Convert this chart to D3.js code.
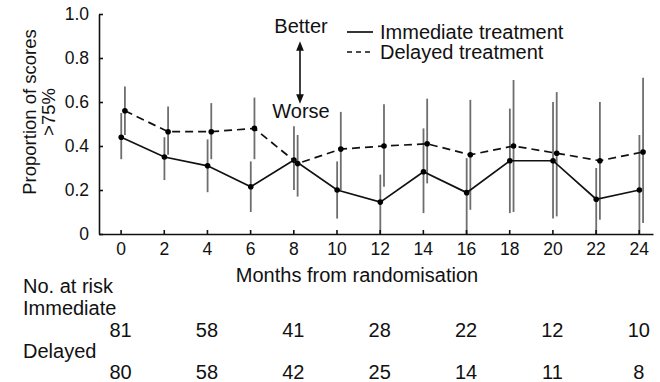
<!DOCTYPE html>
<html>
<head>
<meta charset="utf-8">
<script src="https://cdn.jsdelivr.net/npm/d3@7"></script>
<style>
  body { margin: 0; background: #fff; }
  svg text { font-family: "Liberation Sans", Arial, Helvetica, sans-serif; fill: #111; }
</style>
</head>
<body>
<figure id="qol" style="margin:0"></figure>
<script>
const months = [0, 2, 4, 6, 8, 10, 12, 14, 16, 18, 20, 22, 24];

const immediate   = [0.44, 0.35, 0.31, 0.215, 0.336, 0.20, 0.145, 0.283, 0.188, 0.333, 0.333, 0.158, 0.20];
const immediateLo = [0.34, 0.245, 0.19, 0.10, 0.20, 0.07, 0.0, 0.095, 0.0, 0.095, 0.07, 0.0, 0.0];
const immediateHi = [0.55, 0.44, 0.43, 0.33, 0.49, 0.33, 0.27, 0.48, 0.345, 0.57, 0.60, 0.30, 0.45];

const delayed   = [0.56, 0.465, 0.465, 0.48, 0.32, 0.386, 0.40, 0.41, 0.36, 0.40, 0.367, 0.333, 0.373];
const delayedLo = [0.45, 0.36, 0.34, 0.34, 0.17, 0.20, 0.215, 0.23, 0.11, 0.10, 0.08, 0.065, 0.05];
const delayedHi = [0.67, 0.58, 0.595, 0.62, 0.45, 0.555, 0.59, 0.615, 0.61, 0.70, 0.645, 0.60, 0.71];

const yTicks = [0, 0.2, 0.4, 0.6, 0.8, 1.0];

const riskMonths = [0, 4, 8, 12, 16, 20, 24];
const riskImmediate = [81, 58, 41, 28, 22, 12, 10];
const riskDelayed = [80, 58, 42, 25, 14, 11, 8];

const width = 660, height = 382;

const svg = d3.select('figure#qol')
  .append('svg')
  .attr('width', width)
  .attr('height', height);

// scales
const x = d3.scaleLinear().domain([-1, 24.66]).range([99, 653]);
const y = d3.scaleLinear().domain([0, 1]).range([234, 14]);

// series, delayed drawn a little right of the tick
const series = [
  { name: 'Immediate treatment', vals: immediate, lo: immediateLo, hi: immediateHi, shift: 0.03, dash: null },
  { name: 'Delayed treatment', vals: delayed, lo: delayedLo, hi: delayedHi, shift: 0.2, dash: '8,5' }
];

// error bars
series.forEach(s => {
  svg.append('g').selectAll('line')
    .data(months)
    .enter()
    .append('line')
    .attr('x1', (d, i) => x(d + s.shift))
    .attr('x2', (d, i) => x(d + s.shift))
    .attr('y1', (d, i) => y(s.lo[i]))
    .attr('y2', (d, i) => y(s.hi[i]))
    .attr('stroke', '#6e6e6e')
    .attr('stroke-width', 1.8);
});

// axes
const yAxis = svg.append('g')
  .attr('transform', 'translate(99,0)')
  .call(d3.axisLeft(y)
    .tickValues(yTicks)
    .tickFormat(d => d === 0 ? '0' : d3.format('.1f')(d))
    .tickSizeInner(-4)
    .tickSizeOuter(0)
    .tickPadding(10));

const xAxis = svg.append('g')
  .attr('transform', 'translate(0,234)')
  .call(d3.axisBottom(x)
    .tickValues(months)
    .tickSizeInner(-4)
    .tickSizeOuter(0)
    .tickPadding(9));

[yAxis, xAxis].forEach(a => {
  a.selectAll('path, line').attr('stroke', '#111').attr('stroke-width', 1.6);
  a.selectAll('text').attr('font-size', 17.5).attr('font-family', '"Liberation Sans", Arial, sans-serif').attr('fill', '#111');
});

// lines and points
series.forEach(s => {
  const line = d3.line()
    .x((d, i) => x(months[i] + s.shift))
    .y(d => y(d));
  svg.append('path')
    .datum(s.vals)
    .attr('d', line)
    .attr('fill', 'none')
    .attr('stroke', '#111')
    .attr('stroke-width', 1.7)
    .attr('stroke-dasharray', s.dash);
  svg.append('g').selectAll('circle')
    .data(s.vals)
    .enter()
    .append('circle')
    .attr('cx', (d, i) => x(months[i] + s.shift))
    .attr('cy', d => y(d))
    .attr('r', 2.8)
    .attr('fill', '#000');
});

// axis titles
svg.append('text')
  .attr('transform', 'translate(36,112) rotate(-90)')
  .attr('text-anchor', 'middle')
  .attr('font-size', 18.5)
  .text('Proportion of scores');
svg.append('text')
  .attr('transform', 'translate(55,112) rotate(-90)')
  .attr('text-anchor', 'middle')
  .attr('font-size', 18.5)
  .text('>75%');
svg.append('text')
  .attr('x', 357)
  .attr('y', 282)
  .attr('text-anchor', 'middle')
  .attr('font-size', 20)
  .text('Months from randomisation');

// better / worse arrow
svg.append('defs').append('marker')
  .attr('id', 'head')
  .attr('viewBox', '0 0 10 10')
  .attr('refX', 5).attr('refY', 5)
  .attr('markerWidth', 6).attr('markerHeight', 6)
  .attr('orient', 'auto-start-reverse')
  .append('path')
  .attr('d', 'M0,1 L10,5 L0,9 Z')
  .attr('fill', '#111');
svg.append('line')
  .attr('x1', 300).attr('x2', 300)
  .attr('y1', 46).attr('y2', 99)
  .attr('stroke', '#111')
  .attr('stroke-width', 1.6)
  .attr('marker-start', 'url(#head)')
  .attr('marker-end', 'url(#head)');
svg.append('text')
  .attr('x', 301).attr('y', 33)
  .attr('text-anchor', 'middle')
  .attr('font-size', 20)
  .text('Better');
svg.append('text')
  .attr('x', 301).attr('y', 118)
  .attr('text-anchor', 'middle')
  .attr('font-size', 20)
  .text('Worse');

// legend
const legend = svg.append('g').attr('transform', 'translate(347,32)');
series.forEach((s, i) => {
  legend.append('line')
    .attr('x1', 0).attr('x2', 26)
    .attr('y1', i * 20).attr('y2', i * 20)
    .attr('stroke', '#111')
    .attr('stroke-width', 1.7)
    .attr('stroke-dasharray', s.dash ? '5,4' : null);
  legend.append('text')
    .attr('x', 33)
    .attr('y', i * 20 + 7)
    .attr('font-size', 20)
    .text(s.name);
});

// number at risk table
const table = [
  { label: 'No. at risk', y: 293 },
  { label: 'Immediate', y: 315 },
  { label: 'Delayed', y: 358 }
];
svg.append('g').selectAll('text')
  .data(table)
  .enter()
  .append('text')
  .attr('x', 23)
  .attr('y', d => d.y)
  .attr('font-size', 20)
  .text(d => d.label);

[[riskImmediate, 337], [riskDelayed, 379]].forEach(([vals, yy]) => {
  svg.append('g').selectAll('text')
    .data(vals)
    .enter()
    .append('text')
    .attr('x', (d, i) => x(riskMonths[i]))
    .attr('y', yy)
    .attr('text-anchor', 'middle')
    .attr('font-size', 20)
    .text(d => d);
});
</script>
</body>
</html>
